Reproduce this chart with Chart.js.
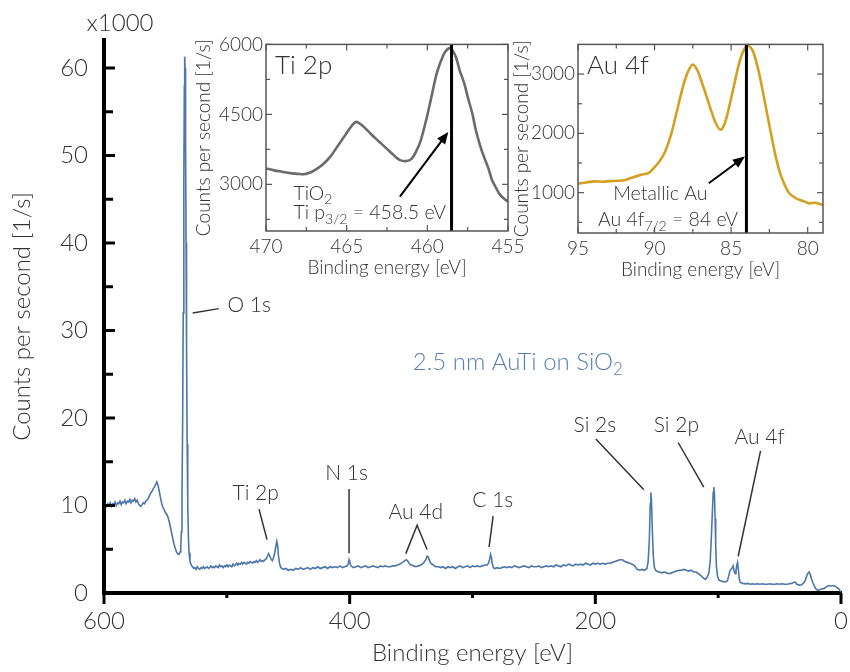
<!DOCTYPE html>
<html>
<head>
<meta charset="utf-8">
<script src="https://cdn.jsdelivr.net/npm/chart.js@4.4.0/dist/chart.umd.min.js"></script>
<style>
  html, body { margin: 0; padding: 0; background: #fff; }
  #wrap { position: relative; width: 850px; height: 672px; }
  #wrap canvas { position: absolute; }
</style>
</head>
<body>
<div id="wrap">
  <canvas id="main" width="850" height="672" style="left:0;top:0"></canvas>
  <canvas id="ti" width="347" height="255" style="left:188px;top:30px"></canvas>
  <canvas id="au" width="340" height="255" style="left:505px;top:30px"></canvas>
</div>
<script>
// --- DATA ---
// survey spectrum, binding energy [eV] and counts [x1000 1/s]
const mainEnergy = [
  600,599,598,597,596,595,594,593,592,591,
  590,589,588,587,586,585,584,583,582,581,
  580,579,578,577,576,575,574,573,572,571,
  570,569,568,567,566,565,564,563,562,561,
  560,559,558,557,556,555,554,553,552,551,
  550,549,548,547,546,545,544,543,542,541,
  540,539,538,537.5,537,536.5,536,535.5,535,534.6,
  534.3,534,533.6,533.2,532.8,532.3,531.8,531.3,530.8,530,
  529,528,527,526,525,524,523,522,521,520,
  519,518,517,516,515,514,513,512,511,510,
  509,508,507,506,505,504,503,502,501,500,
  499,498,497,496,495,494,493,492,491,490,
  489,488,487,486,485,484,483,482,481,480,
  479,478,477,476,475,474,473,472,471,470,
  469,468,467,466,465,464,463,462,461,460,
  459.3,458.6,458,457,456,455,454,452,450,448,
  446,444,442,440,438,436,434,432,430,428,
  426,424,422,420,418,416,414,412,410,408,
  406,404,402,401,400.5,400,399,397,395,393,
  391,389,387,385,383,381,379,377,375,373,
  371,369,367,365,363,361,359,357,355,354,
  353,352,351,350,348,346,344,342,340,338,
  337,336,335,334,332,330,328,326,324,322,
  320,318,316,314,312,310,308,306,304,302,
  300,298,296,294,292,290,288,287,286,285.3,
  284.5,284,283,282,280,278,276,274,272,270,
  268,266,264,262,260,258,256,254,252,250,
  248,246,244,242,240,238,236,234,232,230,
  228,226,224,222,220,218,216,214,212,210,
  208,206,204,202,200,198,196,194,192,190,
  188,186,184,182,180,178,176,174,172,170,
  168,166,164,162,160,158,157,156,155.3,154.8,
  154.3,153.6,152.8,152,151,150,148,146,144,142,
  140,138,136,134,132,130,128,126,124,122,
  120,118,116,114,112,110.5,109,107.5,106.5,105.5,
  104.5,104,103.5,103,102.5,102,101.5,100.5,99.5,98,
  96,94,92.5,91.5,90.5,89.5,88.5,87.8,87,86.2,
  85.5,84.8,84.2,83.5,82.8,82,80,78,76,74,
  72,70,68,66,64,62,60,58,56,54,
  52,50,48,46,44,42,40,38,37,36,
  34,32,30,29,28,27,26,25,24,23,
  22,21,20,19,18,16,14,12,10,8,
  6,4,2,1,0
];
const mainCounts = [
  9.8,10.1,9.9,10.2,10.0,10.3,9.9,10.2,10.1,10.4,
  10.0,10.3,10.2,10.5,10.1,10.4,10.3,10.6,10.2,10.5,
  10.4,10.7,10.3,10.6,10.5,10.8,10.4,10.6,10.2,10.0,
  9.9,10.1,10.3,10.2,10.5,10.6,10.8,11.1,11.4,11.6,
  11.9,12.1,12.4,12.7,12.3,11.6,10.9,10.2,9.8,9.5,
  9.2,9.0,8.7,8.2,7.6,6.9,6.2,5.6,5.1,4.7,
  4.5,4.4,4.7,5.3,7.0,11,19,32,47,58,
  61.3,60,52,40,28,17,10,6.5,4.6,3.6,
  3.2,3.0,2.8,2.9,2.7,3.0,2.8,2.7,2.9,2.8,
  3.0,2.8,2.9,3.0,2.8,2.9,3.1,2.9,3.0,2.9,
  3.1,3.0,2.9,3.2,3.0,3.1,2.9,3.1,3.0,3.2,
  3.0,3.2,3.1,3.0,3.3,3.1,3.2,3.4,3.2,3.4,
  3.3,3.5,3.3,3.5,3.4,3.3,3.5,3.4,3.6,3.5,
  3.4,3.6,3.5,3.7,3.5,3.6,3.8,3.6,3.7,3.6,
  3.8,3.9,4.2,4.5,4.2,3.9,3.7,4.0,4.6,5.4,
  5.9,5.4,4.3,3.3,2.9,2.8,2.7,2.8,2.6,2.7,
  2.6,2.8,2.7,2.9,2.7,2.8,2.9,2.7,2.9,2.8,
  3.0,2.8,2.9,3.0,2.8,3.0,2.9,3.0,2.9,3.1,
  2.9,3.0,3.1,3.4,3.8,3.6,3.1,2.9,3.0,3.1,
  2.9,3.0,3.1,2.9,3.0,3.1,3.0,2.9,3.1,3.0,
  3.1,3.0,3.0,3.1,3.1,3.2,3.3,3.5,3.7,3.8,
  3.7,3.5,3.3,3.2,3.1,3.0,3.1,3.2,3.4,3.8,
  4.2,4.1,3.7,3.4,3.2,3.0,3.0,2.9,3.0,2.8,
  3.0,2.9,3.0,2.8,3.0,3.1,2.9,3.0,3.1,2.9,
  3.1,3.0,3.1,3.0,3.1,3.2,3.2,3.4,3.9,4.4,
  4.0,3.4,2.9,2.8,2.9,2.8,2.9,3.0,2.9,3.0,
  2.9,3.1,3.0,2.9,3.0,3.1,3.0,2.9,3.1,3.0,
  3.0,3.1,2.9,3.0,3.1,3.0,3.1,3.0,3.2,3.1,
  3.0,3.2,3.1,3.3,3.2,3.1,3.3,3.2,3.3,3.2,
  3.4,3.3,3.2,3.4,3.3,3.4,3.3,3.4,3.3,3.4,
  3.4,3.5,3.6,3.7,3.8,3.8,3.6,3.5,3.4,3.3,
  3.1,2.7,2.6,2.7,2.6,2.8,3.6,6.2,10.2,11.5,
  10.6,7.2,4.2,3.0,2.6,2.5,2.4,2.3,2.4,2.3,
  2.2,2.3,2.4,2.5,2.6,2.6,2.7,2.6,2.5,2.6,
  2.4,2.4,2.2,2.0,1.7,1.55,1.8,2.3,3.6,6.5,
  10.0,11.5,12.1,11.2,8.5,5.5,3.2,1.9,1.5,1.4,
  1.3,1.26,1.4,1.9,2.5,2.7,2.9,3.1,2.5,2.2,
  2.5,3.2,3.5,2.6,1.6,1.2,1.1,1.05,1.1,1.0,
  1.05,1.0,1.05,1.0,1.05,1.0,1.0,1.05,1.0,1.0,
  1.05,1.0,1.05,1.0,1.0,1.05,1.1,1.25,1.2,1.0,
  0.9,0.95,1.2,1.5,1.9,2.25,2.4,2.1,1.6,1.2,
  0.9,0.6,0.4,0.3,0.35,0.45,0.5,0.7,0.85,0.8,
  0.85,0.7,0.5,0.3,0.1
];
const mainXTicks = [0, 200, 400, 600];
const mainXMinor = [100, 300, 500];
const mainYTicks = [0, 10, 20, 30, 40, 50, 60];
const mainYMinor = [5, 15, 25, 35, 45, 55];

// Ti 2p detail
const tiEnergy = [
  470,469.5,469,468.5,468,467.7,467.3,467,466.5,466,
  465.5,465,464.7,464.4,464,463.5,463,462.5,462,461.7,
  461.3,461,460.7,460.4,460,459.7,459.4,459,458.8,458.6,
  458.4,458.2,458,457.7,457.5,457.2,457,456.7,456.5,456.2,
  456,455.7,455.5,455.2,455
];
const tiCounts = [
  3340,3300,3270,3240,3225,3215,3250,3300,3420,3600,
  3850,4100,4250,4340,4250,4080,3920,3760,3600,3520,
  3500,3540,3700,3950,4480,4950,5400,5780,5880,5920,
  5850,5700,5450,5150,4880,4500,4170,3800,3600,3330,
  3100,2900,2780,2680,2630
];
const tiXTicks = [455, 460, 465, 470];
const tiXMinor = [457.5, 462.5, 467.5];
const tiYTicks = [3000, 4500, 6000];
const tiYMinor = [2250, 3750, 5250];

// Au 4f detail
const auEnergy = [
  95.0,94.4,93.9,93.4,92.9,92.4,91.9,91.4,90.9,90.4,
  90.1,89.7,89.3,88.9,88.5,88.1,87.8,87.5,87.2,86.9,
  86.6,86.3,86.0,85.7,85.4,85.1,84.8,84.5,84.2,83.9,
  83.6,83.3,83.0,82.7,82.4,82.1,81.8,81.5,81.2,80.8,
  80.5,80.1,79.9,79.5,79.0
];
const auCounts = [
  1150,1175,1190,1185,1195,1200,1215,1260,1300,1330,
  1400,1520,1700,2000,2420,2830,3050,3160,3060,2850,
  2620,2380,2170,2060,2180,2480,2820,3160,3390,3480,
  3400,3150,2800,2400,2000,1620,1330,1130,990,910,
  875,840,820,830,790
];
const auXTicks = [80, 85, 90, 95];
const auXMinor = [82.5, 87.5, 92.5];
const auYTicks = [1000, 2000, 3000];
const auYMinor = [500, 1500, 2500];

// --- STILIUS ---
const FONT = 'Lato, "Open Sans", sans-serif';
const TXT = '#333';
const BLUE = '#4d76ab';

function seg(ctx, x1, y1, x2, y2) {
  ctx.beginPath(); ctx.moveTo(x1, y1); ctx.lineTo(x2, y2); ctx.stroke();
}

// text with optional subscript parts
function rich(ctx, parts, x, y, size, color, align) {
  const big = `300 ${size}px ${FONT}`;
  const small = `300 ${Math.round(size * 0.7)}px ${FONT}`;
  let w = 0;
  parts.forEach(p => { ctx.font = p.sub ? small : big; w += ctx.measureText(p.t).width; });
  let cx = align === 'center' ? x - w / 2 : x;
  ctx.fillStyle = color;
  ctx.textAlign = 'left';
  ctx.textBaseline = 'middle';
  parts.forEach(p => {
    ctx.font = p.sub ? small : big;
    ctx.fillText(p.t, cx, p.sub ? y + size * 0.32 : y);
    cx += ctx.measureText(p.t).width;
  });
}

function arrow(ctx, x1, y1, x2, y2) {
  const a = Math.atan2(y2 - y1, x2 - x1);
  const L = 12, W = 5;
  ctx.strokeStyle = '#000'; ctx.fillStyle = '#000'; ctx.lineWidth = 2;
  seg(ctx, x1, y1, x2 - L * 0.8 * Math.cos(a), y2 - L * 0.8 * Math.sin(a));
  ctx.beginPath();
  ctx.moveTo(x2, y2);
  ctx.lineTo(x2 - L * Math.cos(a) + W * Math.sin(a), y2 - L * Math.sin(a) - W * Math.cos(a));
  ctx.lineTo(x2 - L * Math.cos(a) - W * Math.sin(a), y2 - L * Math.sin(a) + W * Math.cos(a));
  ctx.closePath(); ctx.fill();
}

// --- PAGRINDINĖ DIAGRAMA ---
const peakLabels = [
  { text: 'O 1s',  at: [481.8, 32.9], line: [[527.8, 32.0], [506.6, 32.5]] },
  { text: 'Ti 2p', at: [476.5, 11.4], line: [[473.8, 9.58], [467.3, 6.1]] },
  { text: 'N 1s',  at: [402.5, 13.7], line: [[400.5, 11.9], [400.5, 4.55]] },
  { text: 'Au 4d', at: [346.2, 9.27], line: [[354.3, 4.5], [345.1, 7.75], [337, 4.97]] },
  { text: 'C 1s',  at: [283.5, 10.6], line: [[283.2, 8.78], [286.5, 5.26]] },
  { text: 'Si 2s', at: [200.4, 19.2], line: [[199.6, 17.6], [160.5, 11.8]] },
  { text: 'Si 2p', at: [134, 19.2],   line: [[132.6, 17.2], [111.7, 12.1]] },
  { text: 'Au 4f', at: [66.3, 17.85], line: [[65.5, 16.25], [83.7, 4.2]] }
];

const mainDecor = {
  id: 'mainDecor',
  afterDraw(chart) {
    const { ctx, chartArea: a, scales: { x, y } } = chart;
    ctx.save();
    ctx.strokeStyle = '#000'; ctx.lineWidth = 3;
    mainYTicks.forEach(v => seg(ctx, a.left, y.getPixelForValue(v), a.left + 11, y.getPixelForValue(v)));
    mainYMinor.forEach(v => seg(ctx, a.left, y.getPixelForValue(v), a.left + 9, y.getPixelForValue(v)));
    mainXTicks.forEach(v => seg(ctx, x.getPixelForValue(v), a.bottom, x.getPixelForValue(v), a.bottom + 11));
    mainXMinor.forEach(v => seg(ctx, x.getPixelForValue(v), a.bottom, x.getPixelForValue(v), a.bottom + 5));

    rich(ctx, [{ t: 'x1000' }], 120, 23, 24, TXT, 'center');

    ctx.strokeStyle = '#333'; ctx.lineWidth = 1.5;
    peakLabels.forEach(p => {
      ctx.beginPath();
      p.line.forEach((pt, i) => {
        const px = x.getPixelForValue(pt[0]), py = y.getPixelForValue(pt[1]);
        i ? ctx.lineTo(px, py) : ctx.moveTo(px, py);
      });
      ctx.stroke();
      rich(ctx, [{ t: p.text }], x.getPixelForValue(p.at[0]), y.getPixelForValue(p.at[1]), 21, TXT, 'center');
    });

    rich(ctx, [{ t: '2.5 nm AuTi on SiO' }, { t: '2', sub: true }],
      x.getPixelForValue(348.6), y.getPixelForValue(26.4), 24, '#5a7fb3', 'left');
    ctx.restore();
  }
};

new Chart(document.getElementById('main'), {
  type: 'line',
  data: {
    datasets: [{
      data: mainEnergy.map((e, i) => ({ x: e, y: mainCounts[i] })),
      borderColor: BLUE, borderWidth: 1.6, pointRadius: 0, tension: 0
    }]
  },
  options: {
    responsive: false, animation: false,
    layout: { padding: { top: 40, right: 9, left: 0, bottom: 0 } },
    plugins: { legend: { display: false }, tooltip: { enabled: false } },
    scales: {
      x: {
        type: 'linear', min: 0, max: 600, reverse: true,
        afterBuildTicks: s => { s.ticks = mainXTicks.map(v => ({ value: v })); },
        afterFit: s => { s.height = 79; },
        grid: { display: false, drawTicks: false },
        border: { color: '#000', width: 4 },
        ticks: { padding: 14, color: TXT, font: { family: FONT, size: 24, weight: 300 }, maxRotation: 0 },
        title: { display: true, text: 'Binding energy [eV]', color: TXT, padding: { top: 0, bottom: 4 },
                 font: { family: FONT, size: 24, weight: 300 } }
      },
      y: {
        min: 0, max: 63.2,
        afterBuildTicks: s => { s.ticks = mainYTicks.map(v => ({ value: v })); },
        afterFit: s => { s.width = 104; },
        grid: { display: false, drawTicks: false },
        border: { color: '#000', width: 4 },
        ticks: { padding: 16, color: TXT, font: { family: FONT, size: 24, weight: 300 } },
        title: { display: true, text: 'Counts per second [1/s]', color: TXT, padding: { top: 8, bottom: 0 },
                 font: { family: FONT, size: 24, weight: 300 } }
      }
    }
  },
  plugins: [mainDecor]
});

// --- INTARPOS ---
function makeInset(id, o) {
  const decor = {
    id: 'insetDecor',
    afterDatasetsDraw(chart) {
      const { ctx, chartArea: a, scales: { x, y } } = chart;
      ctx.save();
      const mx = x.getPixelForValue(o.marker);
      ctx.strokeStyle = '#000'; ctx.lineWidth = 3;
      seg(ctx, mx, a.top, mx, a.bottom);
      ctx.strokeStyle = '#555'; ctx.lineWidth = 1.5;
      ctx.strokeRect(a.left, a.top, a.right - a.left, a.bottom - a.top);
      ctx.lineWidth = 1.2;
      const tick = (vals, len) => {
        vals.forEach(v => {
          const px = x.getPixelForValue(v);
          seg(ctx, px, a.bottom, px, a.bottom - len);
          seg(ctx, px, a.top, px, a.top + len);
        });
      };
      const tickY = (vals, len) => {
        vals.forEach(v => {
          const py = y.getPixelForValue(v);
          seg(ctx, a.left, py, a.left + len, py);
          seg(ctx, a.right, py, a.right - len, py);
        });
      };
      tick(o.xTicks, 6); tick(o.xMinor, 4);
      tickY(o.yTicks, 6); tickY(o.yMinor, 4);

      rich(ctx, [{ t: o.title }], a.left + 9, a.top + 21, 26, TXT, 'left');
      o.notes.forEach(n => rich(ctx, n.parts, x.getPixelForValue(n.at[0]), y.getPixelForValue(n.at[1]), 19.5, TXT, 'left'));
      arrow(ctx, x.getPixelForValue(o.arrow[0][0]), y.getPixelForValue(o.arrow[0][1]),
        x.getPixelForValue(o.arrow[1][0]), y.getPixelForValue(o.arrow[1][1]));
      ctx.restore();
    }
  };
  const tickFont = { family: FONT, size: 19, weight: 300 };
  return new Chart(document.getElementById(id), {
    type: 'line',
    data: {
      datasets: [{
        data: o.energy.map((e, i) => ({ x: e, y: o.counts[i] })),
        borderColor: o.color, borderWidth: 2.6, pointRadius: 0, tension: 0.3
      }]
    },
    options: {
      responsive: false, animation: false,
      layout: { padding: { top: 14, right: o.padRight, left: 0, bottom: 0 } },
      plugins: { legend: { display: false }, tooltip: { enabled: false } },
      scales: {
        x: {
          type: 'linear', min: o.xMin, max: o.xMax, reverse: true,
          afterBuildTicks: s => { s.ticks = o.xTicks.map(v => ({ value: v })); },
          afterFit: s => { s.height = o.xHeight; },
          grid: { display: false, drawTicks: false },
          border: { display: false },
          ticks: { padding: 4, color: TXT, font: tickFont, maxRotation: 0, callback: v => String(v) },
          title: { display: true, text: 'Binding energy [eV]', color: TXT, padding: { top: 0, bottom: o.xTitlePad }, font: tickFont }
        },
        y: {
          min: o.yMin, max: o.yMax,
          afterBuildTicks: s => { s.ticks = o.yTicks.map(v => ({ value: v })); },
          afterFit: s => { s.width = o.yWidth; },
          grid: { display: false, drawTicks: false },
          border: { display: false },
          ticks: { padding: 3, color: TXT, font: tickFont, callback: v => String(v) },
          title: { display: true, text: 'Counts per second [1/s]', color: TXT, padding: { top: o.yTitlePad, bottom: 0 }, font: tickFont }
        }
      }
    },
    plugins: [decor]
  });
}

makeInset('ti', {
  energy: tiEnergy, counts: tiCounts, color: '#6b6b6b',
  xMin: 455, xMax: 470, yMin: 2000, yMax: 6000,
  xTicks: tiXTicks, xMinor: tiXMinor, yTicks: tiYTicks, yMinor: tiYMinor,
  marker: 458.5, title: 'Ti 2p',
  padRight: 27, yWidth: 78, xHeight: 54, xTitlePad: 6, yTitlePad: 4,
  notes: [
    { parts: [{ t: 'TiO' }, { t: '2', sub: true }], at: [468.3, 2808] },
    { parts: [{ t: 'Ti p' }, { t: '3/2', sub: true }, { t: ' = 458.5 eV' }], at: [468.3, 2382] }
  ],
  arrow: [[461.7, 2737], [458.7, 4123]]
});

makeInset('au', {
  energy: auEnergy, counts: auCounts, color: '#d5a021',
  xMin: 79, xMax: 95, yMin: 320, yMax: 3500,
  xTicks: auXTicks, xMinor: auXMinor, yTicks: auYTicks, yMinor: auYMinor,
  marker: 84, title: 'Au 4f',
  padRight: 22, yWidth: 73, xHeight: 52, xTitlePad: 4, yTitlePad: 5,
  notes: [
    { parts: [{ t: 'Metallic Au' }], at: [92.7, 989] },
    { parts: [{ t: 'Au 4f' }, { t: '7/2', sub: true }, { t: ' = 84 eV' }], at: [93.7, 538] }
  ],
  arrow: [[86.46, 1158], [84.1, 1608]]
});
</script>
</body>
</html>
